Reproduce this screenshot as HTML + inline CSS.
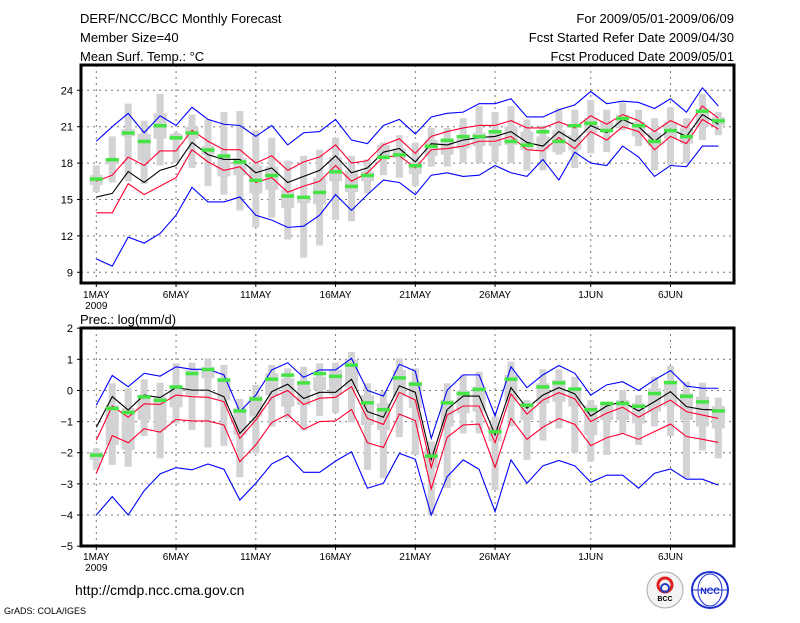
<!DOCTYPE html>
<html><head><meta charset="utf-8"><style>
body{margin:0;background:#fff;width:800px;height:618px;overflow:hidden}
svg text{font-family:"Liberation Sans",sans-serif;fill:#000}
</style></head><body>
<svg id="c" width="800" height="618" xmlns="http://www.w3.org/2000/svg">
<text x="80" y="23" font-size="13">DERF/NCC/BCC Monthly Forecast</text>
<text x="80" y="42" font-size="13">Member Size=40</text>
<text x="80" y="61" font-size="13">Mean Surf. Temp.: °C</text>
<text x="734" y="23" font-size="13" text-anchor="end">For 2009/05/01-2009/06/09</text>
<text x="734" y="42" font-size="13" text-anchor="end">Fcst Started Refer Date 2009/04/30</text>
<text x="734" y="61" font-size="13" text-anchor="end">Fcst Produced Date 2009/05/01</text>
<text x="80" y="324" font-size="13">Prec.: log(mm/d)</text>
<text x="75" y="595" font-size="14">http://cmdp.ncc.cma.gov.cn</text>
<text x="4" y="614" font-size="9">GrADS: COLA/IGES</text>
<g><circle cx="665" cy="590" r="18" fill="#f4f4f4" stroke="#aaa"/><circle cx="665" cy="585" r="7" fill="none" stroke="#e02020" stroke-width="3"/><circle cx="665" cy="588" r="4" fill="none" stroke="#2040c0" stroke-width="2"/><text x="665" y="601" font-size="7" text-anchor="middle" font-weight="bold">BCC</text></g>
<g><circle cx="710" cy="590" r="18" fill="#fff" stroke="#2030d0" stroke-width="2"/><ellipse cx="710" cy="590" rx="12" ry="16" fill="none" stroke="#2030d0"/><line x1="692" y1="590" x2="728" y2="590" stroke="#2030d0"/><text x="710" y="594" font-size="9" text-anchor="middle" style="fill:#2030d0" font-weight="bold">NCC</text></g>
</svg>
<script>
// ---- Temperature panel data ----
const tBlueUp=[19.8,21.0,22.1,20.5,21.9,21.1,22.6,21.6,21.2,21.1,20.2,21.1,19.5,20.5,20.6,21.6,19.9,19.6,21.1,21.6,20.4,21.8,22.1,22.2,22.9,22.9,23.3,21.8,21.8,22.4,22.8,23.9,22.9,23.1,23.0,22.5,23.3,22.2,24.2,22.7];
const tRedUp=[16.5,17.0,18.5,17.8,19.0,19.0,20.7,19.8,19.1,19.1,18.0,18.6,17.4,18.1,18.5,19.5,18.0,18.2,19.5,20.0,18.8,20.2,20.6,20.9,21.1,21.1,21.5,20.9,20.9,21.4,20.9,21.9,21.2,22.0,21.5,20.6,21.5,20.9,22.7,21.7];
const tMean=[15.2,15.5,17.3,16.4,17.4,17.8,19.7,18.7,18.3,18.3,17.2,17.6,16.4,16.9,17.4,18.6,17.2,17.6,18.9,19.2,18.1,19.6,19.5,19.9,20.1,20.2,20.6,19.7,19.4,20.6,19.8,21.1,20.5,21.6,21.0,19.8,20.8,20.2,22.0,21.2];
const tRedLo=[13.9,13.9,16.3,15.4,16.1,16.8,19.1,18.1,17.4,17.7,16.4,16.8,15.6,16.1,16.5,17.8,16.5,17.2,18.5,18.6,17.6,19.1,19.2,19.4,19.8,19.8,20.2,19.1,19.0,20.1,19.2,20.6,19.9,21.0,20.6,19.1,20.2,19.6,21.6,20.8];
const tBlueLo=[10.1,9.5,11.9,11.4,12.2,13.7,16.0,14.8,14.8,15.2,13.7,13.3,12.7,12.8,13.7,15.4,14.1,15.4,16.6,16.4,15.4,17.0,17.2,16.9,17.0,17.8,17.2,16.9,18.3,16.6,18.9,18.0,17.8,19.4,18.5,16.9,17.8,17.7,19.4,19.4];
const tObs=[16.7,18.3,20.5,19.8,21.1,20.1,20.5,19.1,18.6,18.1,16.6,17.0,15.3,15.2,15.6,17.3,16.1,17.0,18.5,18.7,17.8,19.4,19.9,20.2,20.2,20.6,19.8,19.5,20.6,19.8,21.1,21.3,20.7,21.7,21.1,19.8,20.7,20.2,22.3,21.5];
const tMax=[17.8,20.2,22.9,21.5,23.7,20.5,22.0,21.6,22.2,22.3,20.7,20.1,18.2,18.6,19.1,20.1,18.6,18.3,19.7,20.3,19.7,20.9,20.9,21.7,22.7,22.2,22.7,21.6,21.1,22.5,22.4,23.2,22.4,23.0,22.4,21.7,22.6,21.7,23.7,22.2];
const tMin=[15.6,16.4,16.5,16.3,17.8,18.0,17.6,16.1,15.4,14.1,12.7,13.5,11.7,10.2,11.2,13.3,13.2,15.5,17.0,16.8,16.1,17.7,17.7,18.0,18.0,18.1,18.0,17.4,17.4,18.7,17.6,18.8,18.9,20.7,19.4,17.4,17.8,18.0,19.9,20.3];
const tQ3=[17.0,18.3,20.8,20.4,22.1,20.4,21.0,19.4,18.6,18.4,17.8,17.7,15.8,15.3,16.8,18.5,17.4,17.3,19.5,19.2,18.1,19.9,20.0,20.0,20.5,20.4,21.0,20.6,20.2,20.7,20.3,21.7,21.4,22.0,21.4,20.5,21.4,20.9,22.4,21.8];
const tQ1=[16.2,17.9,20.2,18.2,20.0,19.9,20.0,18.7,16.9,17.0,15.5,15.8,14.3,14.7,14.6,16.5,15.6,16.5,18.3,18.4,17.1,18.6,18.7,19.2,19.4,19.4,19.5,19.1,19.1,18.9,19.1,20.5,20.6,20.9,20.2,19.4,20.0,19.6,21.0,21.1];
const tTicks=[9,12,15,18,21,24];
// ---- Precipitation panel data ----
const pBlueUp=[-0.47,0.48,0.12,0.55,0.46,0.76,0.68,0.68,0.50,-0.68,-0.15,0.66,0.89,0.42,0.66,0.66,1.03,0.0,-0.18,0.84,0.62,-1.54,0.01,0.50,0.50,-0.82,0.76,0.09,0.50,0.80,0.55,-0.15,0.18,0.28,0.0,0.34,0.64,0.14,0.07,0.07];
const pRedUp=[-1.6,-0.5,-0.86,-0.43,-0.45,-0.15,-0.2,-0.22,-0.36,-1.54,-0.95,-0.23,0.0,-0.45,-0.25,-0.22,0.12,-0.9,-1.09,-0.06,-0.31,-2.47,-0.79,-0.5,-0.5,-1.68,-0.11,-0.76,-0.31,-0.07,-0.27,-1.0,-0.73,-0.54,-0.86,-0.57,-0.31,-0.68,-0.79,-0.9];
const pMean=[-1.18,-0.2,-0.63,-0.15,-0.23,0.09,0.01,0.01,-0.2,-1.38,-0.84,-0.04,0.2,-0.26,-0.06,-0.06,0.36,-0.68,-0.86,0.15,-0.06,-2.22,-0.61,-0.18,-0.18,-1.43,0.09,-0.57,-0.15,0.09,-0.11,-0.82,-0.5,-0.36,-0.66,-0.36,-0.04,-0.52,-0.61,-0.63];
const pRedLo=[-2.66,-1.45,-1.68,-1.23,-1.34,-0.93,-0.98,-0.98,-1.11,-2.29,-1.75,-1.03,-0.77,-1.25,-1.0,-0.98,-0.61,-1.68,-1.83,-0.76,-0.97,-3.16,-1.5,-1.11,-1.08,-2.47,-0.9,-1.57,-1.18,-0.9,-1.09,-1.77,-1.52,-1.38,-1.57,-1.32,-1.08,-1.48,-1.57,-1.67];
const pBlueLo=[-4.0,-3.41,-4.0,-3.22,-2.68,-2.48,-2.55,-2.36,-2.53,-3.52,-2.98,-2.36,-2.1,-2.63,-2.63,-2.27,-1.97,-3.14,-2.98,-2.02,-2.21,-4.0,-2.77,-2.23,-2.53,-3.89,-2.23,-2.98,-2.42,-2.25,-2.42,-2.95,-2.72,-2.72,-3.14,-2.66,-2.52,-2.85,-2.85,-3.04];
const pObs=[-2.07,-0.57,-0.7,-0.2,-0.31,0.12,0.55,0.68,0.34,-0.65,-0.27,0.37,0.5,0.25,0.55,0.46,0.82,-0.39,-0.61,0.41,0.21,-2.1,-0.39,-0.09,0.04,-1.32,0.37,-0.47,0.12,0.25,0.05,-0.61,-0.41,-0.41,-0.5,-0.09,0.26,-0.18,-0.36,-0.65];
const pMax=[-1.86,0.23,0.07,0.36,0.25,0.87,0.89,1.03,0.82,-0.27,0.18,0.82,0.71,0.76,0.87,0.89,1.24,0.23,-0.02,1.03,0.71,-1.64,0.23,0.5,0.6,-0.84,0.93,-0.31,0.68,0.68,0.44,-0.31,-0.36,0.01,-0.15,0.44,0.79,0.28,0.25,-0.23];
const pMin=[-2.55,-2.39,-2.45,-1.46,-2.18,-1.06,-1.27,-1.83,-1.78,-2.79,-2.02,-1.16,-0.9,-1.27,-0.82,-0.73,-1.03,-2.55,-2.82,-1.5,-2.07,-4.0,-3.14,-1.38,-1.38,-3.2,-1.16,-2.23,-1.61,-1.22,-2.0,-2.29,-2.07,-1.38,-1.75,-1.16,-1.46,-2.82,-1.93,-2.18];
const pQ3=[-1.97,-0.47,-0.57,-0.15,-0.2,0.12,0.66,0.76,0.39,-0.57,-0.18,0.55,0.39,0.28,0.44,0.66,0.98,-0.15,-0.41,0.66,0.28,-1.86,-0.31,-0.01,0.12,-1.16,0.5,-0.41,0.23,0.34,0.07,-0.47,-0.47,-0.31,-0.41,0.07,0.28,-0.09,-0.2,-0.5];
const pQ1=[-2.23,-1.75,-1.91,-0.95,-1.27,-0.54,-0.15,0.39,-0.31,-1.43,-0.84,-0.15,-0.52,-0.47,0.01,-0.15,0.07,-1.11,-1.27,-0.2,-0.57,-2.5,-1.16,-0.73,-0.68,-1.64,-0.36,-0.95,-0.41,-0.36,-0.52,-1.43,-0.95,-0.95,-1.06,-0.68,-0.52,-0.95,-1.16,-1.22];
const pTicks=[-5,-4,-3,-2,-1,0,1,2];
const xDays=[0,5,10,15,20,25,31,36];
const xLabels=["1MAY","6MAY","11MAY","16MAY","21MAY","26MAY","1JUN","6JUN"];

const NS="http://www.w3.org/2000/svg";
const svg=document.getElementById('c');
const X0=96.3, DX=15.95, L=81, R=734;
const xs=d=>X0+d*DX;
function mk(tag,attrs,parent){const e=document.createElementNS(NS,tag);for(const k in attrs)e.setAttribute(k,attrs[k]);(parent||svg).appendChild(e);return e;}

function panel(name,top,bot,yv,ticks,gridVals,series,labelY){
  const g=mk('g',{});
  
  
  // grid
  gridVals.forEach(v=>{const l=mk('line',{x1:L,x2:R,y1:yv(v),y2:yv(v),stroke:'#777','stroke-dasharray':'2,4','stroke-width':1},g);
    
    });
  xDays.forEach(d=>{const l=mk('line',{x1:xs(d),x2:xs(d),y1:top,y2:bot,stroke:'#777','stroke-dasharray':'2,4','stroke-width':1},g);
    
    });
  // bars
  const [mx,mn,q3,q1,obs]=series.bars;
  mx.forEach((v,i)=>{const x=xs(i);
    const b=mk('rect',{x:x-3.5,y:yv(v),width:7,height:yv(mn[i])-yv(v),fill:'#d3d3d6'},g);
    
    
    const q=mk('rect',{x:x-6.5,y:yv(q3[i]),width:13,height:Math.max(1,yv(q1[i])-yv(q3[i])),fill:'#d3d3d6'},g);
    
    });
  // lines
  series.lines.forEach(([arr,col,nm])=>{
    const p=mk('polyline',{points:arr.map((v,i)=>xs(i)+','+yv(v)).join(' '),fill:'none',stroke:col,'stroke-width':1.1},g);
    
    });
  obs.forEach((v,i)=>{const o=mk('rect',{x:xs(i)-6.5,y:yv(v)-1.5,width:13,height:3.5,fill:'#44e444'},g);
    
    });
  // frame
  const f=mk('rect',{x:L,y:top,width:R-L,height:bot-top,fill:'none',stroke:'#000','stroke-width':3},g);
  
  
  ticks.forEach(v=>{const t=mk('text',{x:L-8,y:yv(v)+4,'font-size':11,'text-anchor':'end'},g);t.textContent=String(v).replace('-','−');
    
    
    mk('line',{x1:L-4,x2:L,y1:yv(v),y2:yv(v),stroke:'#000'},g);});
  xDays.forEach((d,i)=>{mk('line',{x1:xs(d),x2:xs(d),y1:bot,y2:bot+4,stroke:'#000'},g);
    const t=mk('text',{x:xs(d),y:labelY,'font-size':10,'text-anchor':'middle'},g);t.textContent=xLabels[i];
    
    });
  const y=mk('text',{x:xs(0),y:labelY+11,'font-size':10,'text-anchor':'middle'},g);y.textContent='2009';
  
  
}
const yT=v=>90.3+(24-v)*12.13;
panel('temperature-panel',65,283,yT,tTicks,tTicks,{bars:[tMax,tMin,tQ3,tQ1,tObs],
  lines:[[tBlueUp,'#0000ff','upper-blue-line'],[tBlueLo,'#0000ff','lower-blue-line'],[tRedUp,'#ff0030','upper-red-line'],[tRedLo,'#ff0030','lower-red-line'],[tMean,'#000','ensemble-mean-line']]},298);
const yP=v=>359.3+(1-v)*31.14;
panel('precipitation-panel',328,546,yP,pTicks,pTicks.slice(1,-1),{bars:[pMax,pMin,pQ3,pQ1,pObs],
  lines:[[pBlueUp,'#0000ff','upper-blue-line'],[pBlueLo,'#0000ff','lower-blue-line'],[pRedUp,'#ff0030','upper-red-line'],[pRedLo,'#ff0030','lower-red-line'],[pMean,'#000','ensemble-mean-line']]},560);
</script>
</body></html>
